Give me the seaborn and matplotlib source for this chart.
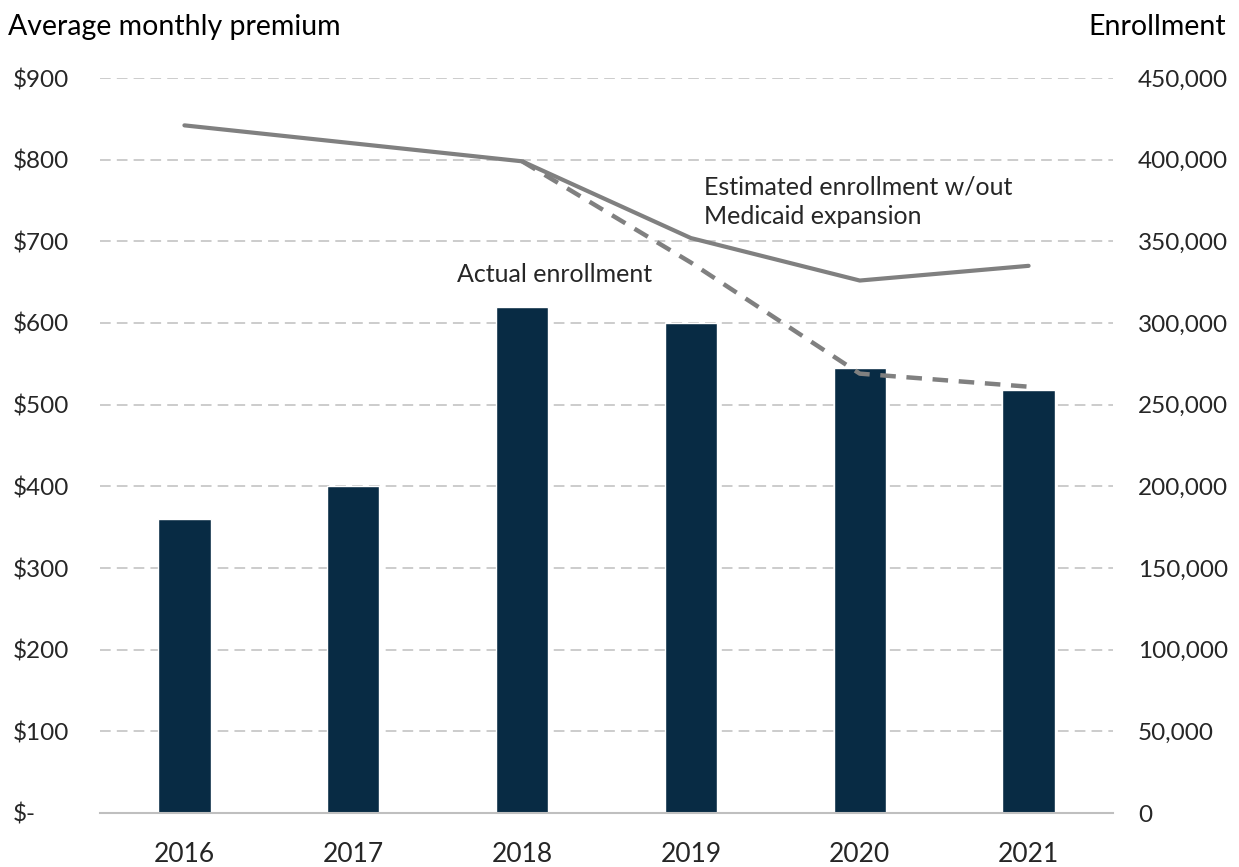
import numpy as np
import pandas as pd
import matplotlib
matplotlib.use("Agg")
import matplotlib.pyplot as plt
import seaborn as sns
from matplotlib.ticker import FuncFormatter

years = ["2016", "2017", "2018", "2019", "2020", "2021"]
avg_premium = [360, 400, 620, 600, 545, 518]
estimated_enrollment = [421000, 410000, 399000, 352000, 326000, 335000]
actual_enrollment = [421000, 410000, 399000, 337000, 269000, 261000]

premium_ticks = list(range(0, 1000, 100))
enrollment_ticks = list(range(0, 500000, 50000))

sns.set_theme(style="white")
plt.rcParams["font.family"] = ["Lato", "DejaVu Sans"]

BAR_COLOR = "#082B44"
LINE_COLOR = "#808080"
GRID_COLOR = "#BFBFBF"
FS = 18
TITLE_FS = 20.5

df = pd.DataFrame({
    "year": years,
    "premium": avg_premium,
    "pos": np.arange(len(years)),
    "estimated": estimated_enrollment,
    "actual": actual_enrollment,
})

fig = plt.figure(figsize=(12.39, 8.67), dpi=100)
ax = fig.add_axes([100 / 1239, 1 - 813 / 867, 1013 / 1239, 735 / 867])

sns.barplot(data=df, x="year", y="premium", color=BAR_COLOR, width=0.31,
            saturation=1, ax=ax, zorder=3)
ax.set_xlim(-0.5, len(years) - 0.5)
ax.set_ylim(0, 900)
ax.set_yticks(premium_ticks)
ax.yaxis.set_major_formatter(FuncFormatter(lambda v, p: "$-" if v == 0 else f"${v:,.0f}"))
ax.set_xlabel("")
ax.set_ylabel("")

for v in premium_ticks[1:]:
    ax.axhline(v, color=GRID_COLOR, lw=1.1, ls=(0, (7, 4)), zorder=1)
for s in ["top", "right", "left"]:
    ax.spines[s].set_visible(False)
ax.spines["bottom"].set_color("#BFBFBF")
ax.spines["bottom"].set_linewidth(1.5)
ax.spines["bottom"].set_zorder(4)

ax.tick_params(axis="x", length=0, pad=21, labelsize=19)
ax.tick_params(axis="y", length=0, pad=63, labelsize=17.5)
for lbl in ax.get_yticklabels():
    lbl.set_horizontalalignment("left")

ax2 = ax.twinx()
sns.lineplot(data=df, x="pos", y="estimated", color=LINE_COLOR, lw=3.0,
             ax=ax2, zorder=5)
sns.lineplot(data=df.iloc[2:], x="pos", y="actual", color=LINE_COLOR, lw=3.2,
             ax=ax2, zorder=5, dashes=False, linestyle=(0, (3.5, 2.4)))
ax2.set_xlim(-0.5, len(years) - 0.5)
ax2.set_ylim(0, 450000)
ax2.set_yticks(enrollment_ticks)
ax2.yaxis.set_major_formatter(FuncFormatter(lambda v, p: f"{v:,.0f}"))
ax2.set_xlabel("")
ax2.set_ylabel("")
ax2.tick_params(axis="y", length=0, pad=18, labelsize=17.5)
for s in ["top", "right", "left", "bottom"]:
    ax2.spines[s].set_visible(False)

fig.text(8 / 1239, 1 - 27 / 867, "Average monthly premium", fontsize=TITLE_FS,
         ha="left", va="center", color="#000000")
fig.text(1226 / 1239, 1 - 27 / 867, "Enrollment", fontsize=TITLE_FS,
         ha="right", va="center", color="#000000")

fig.text(457 / 1239, 1 - 275 / 867, "Actual enrollment", fontsize=FS,
         ha="left", va="center")
fig.text(704 / 1239, 1 - 202 / 867, "Estimated enrollment w/out\nMedicaid expansion",
         fontsize=FS, ha="left", va="center", linespacing=1.35)

fig.savefig("out.png", dpi=100, facecolor="white")
